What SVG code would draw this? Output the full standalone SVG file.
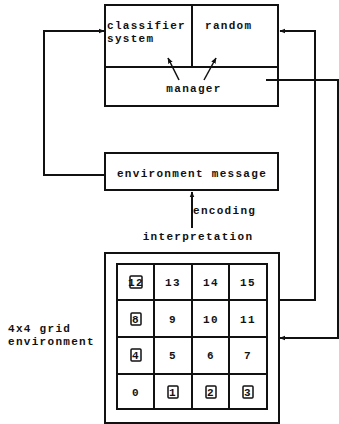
<svg xmlns="http://www.w3.org/2000/svg" width="339" height="424" viewBox="0 0 339 424">
<style>
text{font-family:"Liberation Mono","DejaVu Sans Mono",monospace;font-weight:bold;font-size:11px;letter-spacing:1.3px;fill:#111}
.b{fill:none;stroke:#111;stroke-width:2}
.t{fill:none;stroke:#111;stroke-width:1.5}
.c{fill:none;stroke:#111;stroke-width:2}
.n{text-anchor:middle}
.sq{fill:none;stroke:#111;stroke-width:1.5}
</style>
<defs>
<marker id="ah" viewBox="0 0 10 10" refX="9" refY="5" markerWidth="6" markerHeight="6" orient="auto" markerUnits="userSpaceOnUse"><path d="M0,1 L10,5 L0,9 Z" fill="#111"/></marker>
</defs>
<rect width="339" height="424" fill="#fff"/>
<g id="connectors">
<polyline class="c" points="105,175 44,175 44,31 104,31" marker-end="url(#ah)"/>
<polyline class="c" points="279,300 315,300 315,31 280,31" marker-end="url(#ah)"/>
<polyline class="c" points="266,80 338,80 338,338 280,338" marker-end="url(#ah)"/>
<line class="c" x1="192" y1="228" x2="192" y2="192" marker-end="url(#ah)"/>
<line class="t" x1="179" y1="80" x2="168" y2="58" marker-end="url(#ah)"/>
<line class="t" x1="204" y1="80" x2="216" y2="58" marker-end="url(#ah)"/>
</g>
<g id="top">
<rect class="b" x="105" y="5" width="173" height="101"/>
<line class="b" x1="105" y1="67" x2="278" y2="67"/>
<line class="b" x1="192" y1="5" x2="192" y2="67"/>
<text x="107" y="29">classifier</text>
<text x="107" y="42">system</text>
<text x="205" y="29">random</text>
<text class="n" x="194" y="92">manager</text>
</g>
<g id="envmsg">
<rect class="b" x="105" y="153" width="173" height="37"/>
<text class="n" x="192" y="177">environment message</text>
</g>
<g id="labels">
<text x="193" y="214">encoding</text>
<text class="n" x="198" y="240">interpretation</text>
<text x="8" y="332">4x4 grid</text>
<text x="8" y="345">environment</text>
</g>
<g id="grid">
<rect class="b" x="105" y="253" width="174" height="170"/>
<rect class="b" x="117" y="264" width="150" height="145"/>
<line class="b" x1="154" y1="264" x2="154" y2="409"/>
<line class="b" x1="192" y1="264" x2="192" y2="409"/>
<line class="b" x1="229" y1="264" x2="229" y2="409"/>
<line class="b" x1="117" y1="300" x2="267" y2="300"/>
<line class="b" x1="117" y1="337" x2="267" y2="337"/>
<line class="b" x1="117" y1="374" x2="267" y2="374"/>
<g style="letter-spacing:0.3px">
<text class="n" x="136" y="286">12</text><rect class="sq" x="130" y="276" width="12" height="12" rx="1"/>
<text class="n" x="173" y="286">13</text>
<text class="n" x="211" y="286">14</text>
<text class="n" x="248" y="286">15</text>
<text class="n" x="136" y="323">8</text><rect class="sq" x="131" y="313" width="10" height="12" rx="1"/>
<text class="n" x="173" y="323">9</text>
<text class="n" x="211" y="323">10</text>
<text class="n" x="248" y="323">11</text>
<text class="n" x="136" y="359">4</text><rect class="sq" x="131" y="349" width="10" height="12" rx="1"/>
<text class="n" x="173" y="359">5</text>
<text class="n" x="211" y="359">6</text>
<text class="n" x="248" y="359">7</text>
<text class="n" x="136" y="396">0</text>
<text class="n" x="173" y="396">1</text><rect class="sq" x="168" y="386" width="10" height="12" rx="1"/>
<text class="n" x="211" y="396">2</text><rect class="sq" x="206" y="386" width="10" height="12" rx="1"/>
<text class="n" x="248" y="396">3</text><rect class="sq" x="243" y="386" width="10" height="12" rx="1"/>
</g>
</g>
</svg>
